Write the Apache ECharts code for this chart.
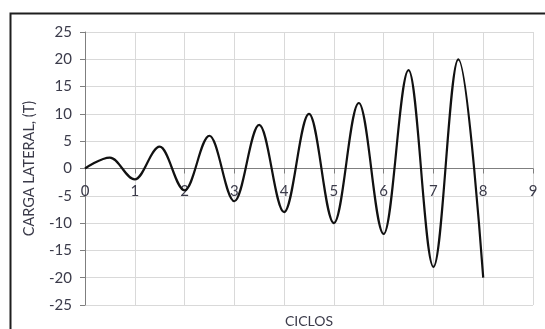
<!DOCTYPE html>
<html>
<head>
<meta charset="utf-8">
<script src="https://cdn.jsdelivr.net/npm/echarts@6/dist/echarts.min.js"></script>
<style>
  html, body { margin: 0; padding: 0; background: #fff; }
  #chart { width: 545px; height: 329px; }
</style>
</head>
<body>
<div id="chart"></div>
<script>
// Loading protocol: peak lateral load (T) at each half cycle
const cycles = [0, 0.5, 1, 1.5, 2, 2.5, 3, 3.5, 4, 4.5, 5, 5.5, 6, 6.5, 7, 7.5, 8];
const loads  = [0, 2, -2, 4, -4, 6, -6, 8, -8, 10, -10, 12, -12, 18, -18, 20, -20];

const xTicks = { min: 0, max: 9, step: 1 };
const yTicks = { min: -25, max: 25, step: 5 };

const labelFont = 'Lato, "Open Sans", "Liberation Sans", sans-serif';
const textColor = '#3b3b4a';

const gridBox = { left: 85, top: 32, right: 12, bottom: 24 };
const plotHeight = 329 - gridBox.top - gridBox.bottom;

const chart = echarts.init(document.getElementById('chart'), null, { renderer: 'canvas' });

chart.setOption({
  animation: false,
  backgroundColor: '#ffffff',
  graphic: [{
    type: 'rect',
    left: 8, top: 11,
    shape: { x: 0, y: 0, width: 620, height: 400 },
    style: { fill: 'none', stroke: '#1e1e1e', lineWidth: 2 },
    silent: true,
    z: 100
  }],
  grid: Object.assign({ containLabel: false, outerBoundsMode: 'none' }, gridBox),
  xAxis: [{
    // value axis drawn through y = 0 (the middle of the symmetric range)
    type: 'value',
    position: 'bottom',
    offset: -plotHeight / 2,
    min: xTicks.min, max: xTicks.max, interval: xTicks.step,
    axisLine: { onZero: false, lineStyle: { color: '#7f7f7f', width: 1 } },
    axisTick: { show: true, inside: false, length: 5, lineStyle: { color: '#7f7f7f' } },
    axisLabel: { fontFamily: labelFont, fontSize: 15, color: textColor, margin: 15 },
    splitLine: { show: true, lineStyle: { color: '#d9d9d9', width: 1 } }
  }, {
    // carries the axis title along the bottom edge
    type: 'value',
    position: 'bottom',
    min: xTicks.min, max: xTicks.max,
    name: 'CICLOS',
    nameLocation: 'middle',
    nameGap: 9,
    nameTextStyle: { fontFamily: labelFont, fontSize: 14, color: textColor },
    axisLine: { show: false },
    axisTick: { show: false },
    axisLabel: { show: false },
    splitLine: { show: false }
  }],
  yAxis: {
    type: 'value',
    min: yTicks.min, max: yTicks.max, interval: yTicks.step,
    name: 'CARGA LATERAL, (T)',
    nameLocation: 'middle',
    nameGap: 48,
    nameRotate: 90,
    nameTextStyle: { fontFamily: labelFont, fontSize: 14.5, color: textColor },
    axisLine: { show: true, onZero: false, lineStyle: { color: '#7f7f7f', width: 1 } },
    axisTick: { show: true, inside: false, length: 5, lineStyle: { color: '#7f7f7f' } },
    axisLabel: { fontFamily: labelFont, fontSize: 15, color: textColor, margin: 13 },
    splitLine: { show: true, lineStyle: { color: '#d9d9d9', width: 1 } }
  },
  series: [{
    type: 'line',
    xAxisIndex: 0,
    data: cycles.map((c, i) => [c, loads[i]]),
    smooth: 0.36,
    smoothMonotone: 'x',
    showSymbol: false,
    lineStyle: { color: '#111111', width: 2.2 },
    z: 5
  }]
});
</script>
</body>
</html>
